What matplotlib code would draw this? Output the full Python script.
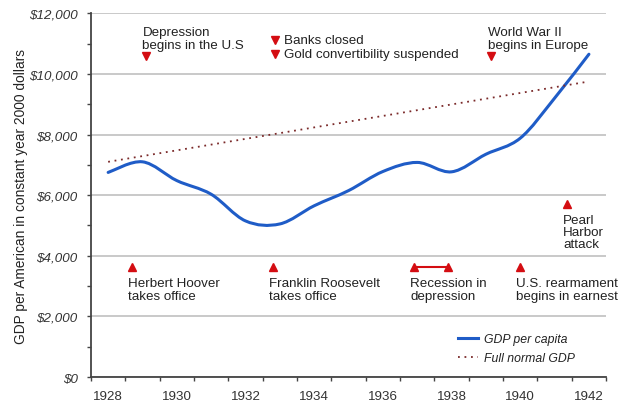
import matplotlib.pyplot as plt
from matplotlib.path import Path
from matplotlib.patches import PathPatch
from matplotlib.ticker import MultipleLocator, FixedLocator

plt.rcParams["font.family"] = ["Liberation Sans", "DejaVu Sans"]

years = [1928, 1929, 1930, 1931, 1932, 1933, 1934, 1935,
         1936, 1937, 1938, 1939, 1940, 1941, 1942]
gdp = [6750, 7100, 6480, 6030, 5150, 5050, 5650, 6150,
       6780, 7080, 6770, 7350, 7880, 9200, 10650]

normal_years = [1928, 1942]
normal_gdp = [7100, 9750]

y_ticks = [0, 2000, 4000, 6000, 8000, 10000, 12000]
y_labels = ["$0", "$2,000", "$4,000", "$6,000", "$8,000", "$10,000", "$12,000"]
x_ticks = [1928, 1930, 1932, 1934, 1936, 1938, 1940, 1942]
x_labels = ["1928", "1930", "1932", "1934", "1936", "1938", "1940", "1942"]

# events: (x, y, text)
down_events = [
    (1929.1, 10600, "Depression\nbegins in the U.S"),
    (1939.15, 10600, "World War II\nbegins in Europe"),
]
bank_x = 1932.85
bank_y = [11120, 10660]
bank_text = ["Banks closed", "Gold convertibility suspended"]

up_events = [
    (1928.7, 3620, "Herbert Hoover\ntakes office"),
    (1932.8, 3620, "Franklin Roosevelt\ntakes office"),
    (1940.0, 3620, "U.S. rearmament\nbegins in earnest"),
]
recession = [1936.9, 1937.9]
pearl = (1941.35, 5720, "Pearl\nHarbor\nattack")

red = "#d40d12"
blue = "#1f5cc7"

fig = plt.figure(figsize=(6.21, 4.02), dpi=100)
ax = fig.add_axes([0.1465, 0.0597, 0.8295, 0.9047])


# smooth curve through the points (Catmull-Rom -> bezier)
def smooth_path(xs, ys):
    verts = [(xs[0], ys[0])]
    codes = [Path.MOVETO]
    n = len(xs)
    for i in range(n - 1):
        x0, y0 = (xs[i - 1], ys[i - 1]) if i > 0 else (xs[i], ys[i])
        x1, y1 = xs[i], ys[i]
        x2, y2 = xs[i + 1], ys[i + 1]
        x3, y3 = (xs[i + 2], ys[i + 2]) if i + 2 < n else (x2, y2)
        c1 = (x1 + (x2 - x0) / 6, y1 + (y2 - y0) / 6)
        c2 = (x2 - (x3 - x1) / 6, y2 - (y3 - y1) / 6)
        verts += [c1, c2, (x2, y2)]
        codes += [Path.CURVE4] * 3
    return Path(verts, codes)


ax.add_patch(PathPatch(smooth_path(years, gdp), fill=False, edgecolor=blue,
                       lw=2.2, capstyle="round", zorder=3))
ax.plot([], [], color=blue, lw=2.2, label="GDP per capita")
ax.plot(normal_years, normal_gdp, color="#7b2a2a", lw=1.3, ls=(0, (1, 2.6)),
        label="Full normal GDP", zorder=3)

ax.set_xlim(1927.5, 1942.5)
ax.set_ylim(0, 12000)

ax.set_yticks(y_ticks)
ax.set_yticklabels(y_labels, fontstyle="italic", fontsize=9.6, color="#333333")
ax.yaxis.set_minor_locator(MultipleLocator(1000))
ax.grid(axis="y", which="major", color="#c0c0c0", lw=1.2)
ax.set_axisbelow(True)

ax.xaxis.set_major_locator(FixedLocator(x_ticks))
ax.xaxis.set_minor_locator(FixedLocator([y + 0.5 for y in range(1927, 1943)]))
ax.set_xticklabels(x_labels, fontsize=9.6, color="#333333")
ax.tick_params(axis="x", which="major", length=0, pad=9)
ax.tick_params(axis="x", which="minor", length=3, width=1, color="#444444")
ax.tick_params(axis="y", which="both", length=3, width=1, color="#444444",
               pad=6.5)

for side in ["top", "right"]:
    ax.spines[side].set_visible(False)
for side in ["left", "bottom"]:
    ax.spines[side].set_color("#444444")
    ax.spines[side].set_linewidth(1.3)

ax.set_ylabel("GDP per American in constant year 2000 dollars", fontsize=9.9,
              color="#222222", labelpad=1)

txt = dict(fontsize=9.6, color="#222222", linespacing=1.03)

# events above (down triangles)
for x, y, label in down_events:
    ax.plot(x, y, marker="v", color=red, ms=6, ls="none", zorder=4)
    ax.text(x - 0.1, y + 140, label, ha="left", va="bottom",
            **dict(txt, linespacing=1.18))
for yy, label in zip(bank_y, bank_text):
    ax.plot(bank_x, yy, marker="v", color=red, ms=6, ls="none", zorder=4)
    ax.text(bank_x + 0.27, yy, label, ha="left", va="center", **txt)

# events below (up triangles)
for x, y, label in up_events:
    ax.plot(x, y, marker="^", color=red, ms=6, ls="none", zorder=4)
    ax.text(x - 0.13, y - 330, label, ha="left", va="top", **txt)
ax.plot(recession, [3620, 3620], color=red, lw=1.5, marker="^", ms=6, zorder=4)
ax.text(recession[0] - 0.1, 3620 - 330, "Recession in\ndepression",
        ha="left", va="top", **txt)
ax.plot(pearl[0], pearl[1], marker="^", color=red, ms=6, ls="none", zorder=4)
ax.text(pearl[0] - 0.1, pearl[1] - 330, pearl[2], ha="left", va="top", **txt)

leg = ax.legend(loc="upper left", bbox_to_anchor=(0.7126, 0.121), frameon=False,
                prop={"size": 8.8, "style": "italic"}, handlelength=1.65,
                handletextpad=0.45, labelspacing=0.61, borderpad=0,
                borderaxespad=0)
for t in leg.get_texts():
    t.set_color("#222222")

fig.savefig("out.png", dpi=100)
